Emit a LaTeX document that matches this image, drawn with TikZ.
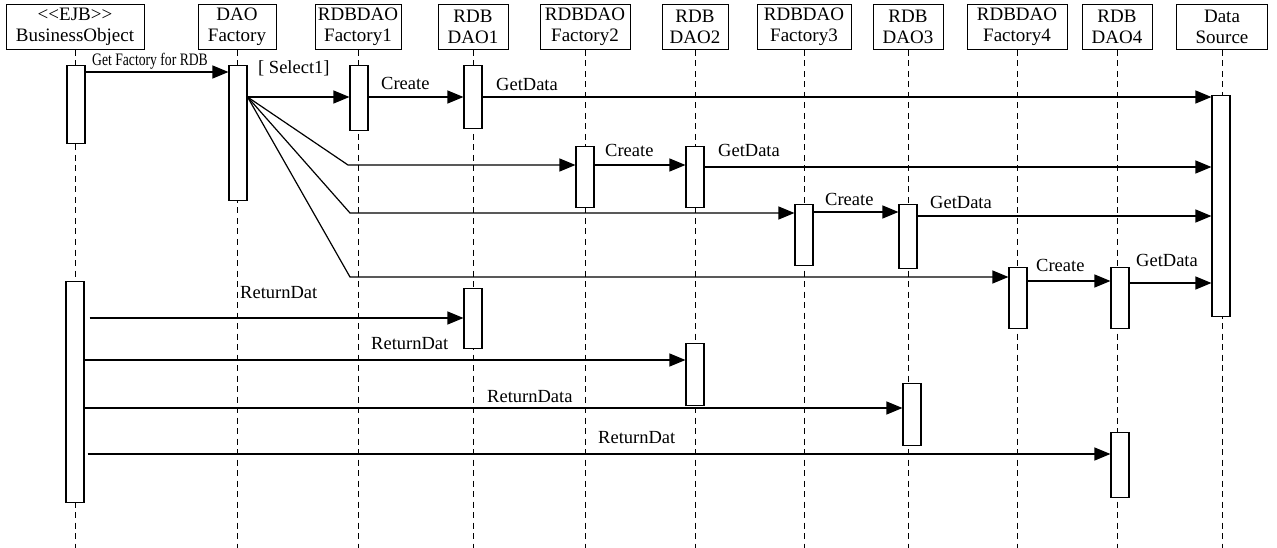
\documentclass[tikz,border=0pt]{standalone}
\usepackage{fontspec}
\setmainfont{Liberation Serif}
\newfontfamily\condf[FakeStretch=0.78]{Liberation Serif}
\usetikzlibrary{arrows.meta}
\begin{document}
\begin{tikzpicture}[x=1pt,y=-1pt,
  head/.style={draw, line width=1pt, minimum height=45pt, inner sep=0pt, align=center,
    font=\fontsize{19}{21}\selectfont},
  life/.style={dash pattern=on 6pt off 4.5pt, line width=0.8pt},
  actbar/.style={draw, fill=white, line width=1.1pt, minimum width=18pt, inner sep=0pt, anchor=north},
  msg/.style={line width=1.2pt, -{Triangle[length=16pt,width=13pt]}},
  lbl/.style={font=\fontsize{18.5}{21}\selectfont, inner sep=0pt, anchor=base west}]
\useasboundingbox (0,0) rectangle (1277,548);

% headers
\node[head, minimum width=138pt] (bo) at (75,27) {{<}{<}EJB{>}{>}\\BusinessObject};
\node[head, minimum width=78pt]  (df) at (237,27) {DAO\\Factory};
\node[head, minimum width=86pt]  (f1) at (358,27) {RDBDAO\\Factory1};
\node[head, minimum width=70pt]  (d1) at (473,27) {RDB\\DAO1};
\node[head, minimum width=90pt]  (f2) at (585,27) {RDBDAO\\Factory2};
\node[head, minimum width=66pt]  (d2) at (695,27) {RDB\\DAO2};
\node[head, minimum width=94pt]  (f3) at (804,27) {RDBDAO\\Factory3};
\node[head, minimum width=70pt]  (d3) at (908,27) {RDB\\DAO3};
\node[head, minimum width=100pt] (f4) at (1017,27) {RDBDAO\\Factory4};
\node[head, minimum width=70pt]  (d4) at (1117,27) {RDB\\DAO4};
\node[head, minimum width=91pt]  (ds) at (1222,27) {Data\\Source};

% lifelines
\foreach \n in {bo,df,f1,d1,f2,d2,f3,d3,f4,d4,ds}{
  \coordinate (\n end) at (\n.south |- 0,548);
  \draw[life] (\n.south) -- (\n end);
}

% activation bars
\node[actbar, minimum height=78pt]  (bo1) at (76,65) {};
\node[actbar, minimum height=135pt] (df1) at (238,65) {};
\node[actbar, minimum height=65pt]  (f1a) at (359,65) {};
\node[actbar, minimum height=63pt]  (d1a) at (473,65) {};
\node[actbar, minimum height=221pt] (dsa) at (1221,95) {};
\node[actbar, minimum height=61pt]  (f2a) at (585,146) {};
\node[actbar, minimum height=61pt]  (d2a) at (695,146) {};
\node[actbar, minimum height=61pt]  (f3a) at (804,204) {};
\node[actbar, minimum height=64pt]  (d3a) at (908,204) {};
\node[actbar, minimum height=61pt]  (f4a) at (1018,267) {};
\node[actbar, minimum height=61pt]  (d4a) at (1120,267) {};
\node[actbar, minimum height=221pt] (bo2) at (75,281) {};
\node[actbar, minimum height=60pt]  (d1b) at (473,288) {};
\node[actbar, minimum height=62pt]  (d2b) at (695,343) {};
\node[actbar, minimum height=62pt]  (d3b) at (912,383) {};
\node[actbar, minimum height=65pt]  (d4b) at (1120,432) {};

% messages
\draw[msg] (bo1.east |- 0,72) -- (df1.west |- 0,72);
\node[lbl, font=\condf\fontsize{17.5}{20}\selectfont] (lgf) at (92,66) {Get Factory for RDB};

\draw[msg] (df1.east |- 0,97) -- (f1a.west |- 0,97);
\node[lbl] (lsel) at (258,74) {[ Select1]};
\draw[msg] (f1a.east |- 0,97) -- (d1a.west |- 0,97);
\node[lbl] (lc1) at (381,90) {Create};
\draw[msg] (d1a.east |- 0,97) -- (dsa.west |- 0,97);
\node[lbl] (lg1) at (496,91) {GetData};

\draw[msg] (df1.east |- 0,97) -- (348,165) -- (f2a.west |- 0,165);
\draw[msg] (f2a.east |- 0,165) -- (d2a.west |- 0,165);
\node[lbl] (lc2) at (605,157) {Create};
\draw[msg] (d2a.east |- 0,167) -- (dsa.west |- 0,167);
\node[lbl] (lg2) at (718,157) {GetData};

\draw[msg] (df1.east |- 0,97) -- (350,213) -- (f3a.west |- 0,213);
\draw[msg] (f3a.east |- 0,212) -- (d3a.west |- 0,212);
\node[lbl] (lc3) at (825,206) {Create};
\draw[msg] (d3a.east |- 0,216) -- (dsa.west |- 0,216);
\node[lbl] (lg3) at (930,209) {GetData};

\draw[msg] (df1.east |- 0,97) -- (350,277) -- (f4a.west |- 0,277);
\draw[msg] (f4a.east |- 0,281) -- (d4a.west |- 0,281);
\node[lbl] (lc4) at (1036,271) {Create};
\draw[msg] (d4a.east |- 0,283) -- (dsa.west |- 0,283);
\node[lbl] (lg4) at (1136,266) {GetData};

\draw[msg] ([xshift=5pt]bo2.east |- 0,318) -- (d1b.west |- 0,318);
\node[lbl] (lr1) at (240,298) {ReturnDat};
\draw[msg] (bo2.east |- 0,360) -- (d2b.west |- 0,360);
\node[lbl] (lr2) at (371,349) {ReturnDat};
\draw[msg] (bo2.east |- 0,408) -- (d3b.west |- 0,408);
\node[lbl] (lr3) at (487,402) {ReturnData};
\draw[msg] ([xshift=3pt]bo2.east |- 0,454) -- (d4b.west |- 0,454);
\node[lbl] (lr4) at (598,443) {ReturnDat};
\end{tikzpicture}
\end{document}
